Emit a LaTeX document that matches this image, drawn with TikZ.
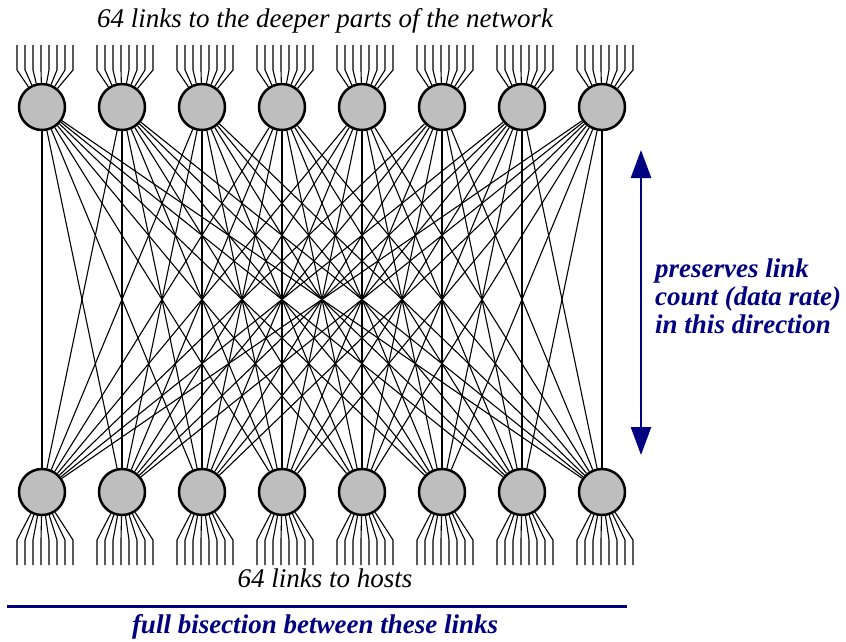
\documentclass[tikz,border=0pt]{standalone}
\usepackage{fontspec}
\setmainfont{Liberation Serif}
\usepackage{xcolor}
\usetikzlibrary{arrows.meta}
\definecolor{mynavy}{RGB}{0,0,128}
\definecolor{mygray}{RGB}{190,190,190}
\tikzstyle{switch} = [draw,circle,fill=mygray,line width=2.5pt,minimum size=46pt,inner sep=0pt]
\tikzstyle{link} = [line width=1.1pt]
\tikzstyle{caption} = [font=\fontsize{27}{28}\selectfont\itshape,inner sep=0pt]
\tikzstyle{note} = [font=\fontsize{27}{28}\selectfont\bfseries\itshape,text=mynavy,inner sep=0pt]
\tikzstyle{bigarrow} = [color=mynavy,line width=2.7pt,{Triangle[width=20pt,length=28pt]}-{Triangle[width=20pt,length=28pt]}]

\begin{document}
\begin{tikzpicture}[x=1pt,y=-1pt]
            \useasboundingbox (0,0) rectangle (846,641);
            % switches
            \foreach \i in {1,...,8}{
                \node[switch] (t\i) at (80*\i-38,107) {};
                \node[switch] (b\i) at (80*\i-38,492) {};
            }
            % full bipartite links
            \foreach \i in {1,...,8}
                \foreach \j in {1,...,8}
                    \draw[link] (t\i) -- (b\j);
            % links up and down
            \foreach \i in {1,...,8}
                \foreach \d in {-25,-17,...,31}{
                    \draw[link] (t\i) -- ([xshift=\d pt,yshift=37pt]t\i.center) -- ++(0,-25);
                    \draw[link] (b\i) -- ([xshift=\d pt,yshift=-48pt]b\i.center) -- ++(0,25);
                }
            % labels
            \node[caption,anchor=base] (deep) at (325,27) {64 links to the deeper parts of the network};
            \node[caption,anchor=base] (hosts) at (325,587) {64 links to hosts};
            \coordinate (atop) at (641,150);
            \coordinate (abot) at (641,455);
            \draw[bigarrow] (atop) -- (abot);
            \node[note,anchor=north west,align=left] (dir) at (655,259) {preserves link\\count (data rate)\\in this direction};
            \coordinate (lleft) at (7,606);
            \coordinate (lright) at (627,606);
            \draw[color=mynavy,line width=3pt] (lleft) -- (lright);
            \node[note,anchor=base] (bisect) at (315,633) {full bisection between these links};
\end{tikzpicture}
\end{document}
